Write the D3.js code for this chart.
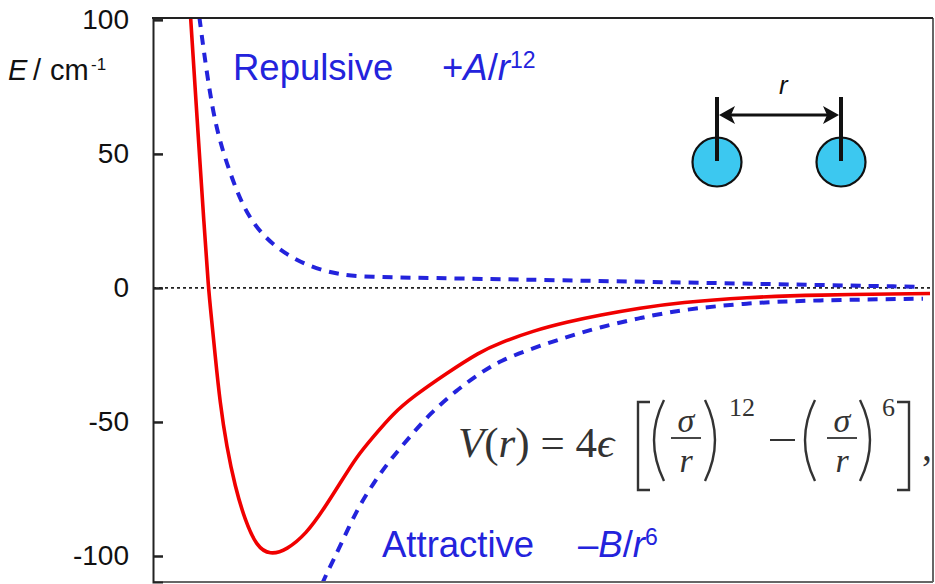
<!DOCTYPE html>
<html><head><meta charset="utf-8">
<script src="https://cdn.jsdelivr.net/npm/d3@7"></script>
<style>body{margin:0;background:#fff}svg{display:block}</style>
</head><body>
<svg id="c" width="935" height="584"></svg>
<script>
// ---- data ----
const yTicks = [100, 50, 0, -50, -100];
// total Lennard-Jones potential (red)
const rTotal = [3.451, 3.509, 3.539, 3.569, 3.591, 3.613, 3.647, 3.691, 3.747, 3.813, 3.891, 3.98, 4.091, 4.225, 4.335, 4.447, 4.558, 4.669, 4.802, 4.935, 5.158, 5.38, 5.513, 5.733, 5.96, 6.18, 6.447, 6.713, 7.16, 7.6, 8.38];
const eTotal = [100.7, 50, 25, 0, -11.9, -24.4, -43, -59.2, -74.1, -86.6, -96.5, -99.6, -97.8, -91.5, -82.8, -72.9, -62.9, -55.5, -46.8, -40.5, -31.8, -23.8, -20.5, -16, -12.7, -10.1, -7.5, -5.4, -3.5, -2.6, -2.1];
// repulsive term +A/r^12 (blue dashed)
const rRep = [3.509, 3.567, 3.627, 3.713, 3.8, 3.913, 4.067, 4.247, 4.447, 4.627, 5.067, 6.18, 7.247, 8.313];
const eRep = [101, 76.5, 57.8, 42.9, 30.2, 20.5, 13.1, 7.8, 4.9, 4.1, 3.7, 2.6, 1.5, 0.4];
// attractive term -B/r^6 (blue dashed)
const rAtt = [4.327, 4.358, 4.447, 4.558, 4.669, 4.78, 4.913, 5.047, 5.225, 5.38, 5.513, 5.733, 5.96, 6.18, 6.447, 6.713, 7.16, 7.6, 8.333];
const eAtt = [-110.5, -106.5, -96.5, -82.8, -72.9, -64.2, -55.5, -46.8, -38.1, -31.8, -27.2, -22.4, -18.3, -14.6, -11.2, -8.2, -5.6, -4.6, -4.0];

const xDomain = [3.2, 8.4];
const yDomain = [-109.7, 100.7];

const svg = d3.select("#c");
const L = 153, R = 933, T = 18, B = 582;
const x = d3.scaleLinear().domain(xDomain).range([L, R]);
const y = d3.scaleLinear().domain(yDomain).range([B, T]);

const blue = "#2323dc", red = "#f00000";
const sans = "Liberation Sans, Arial, sans-serif";

svg.append("defs").append("clipPath").attr("id","clip")
  .append("rect").attr("x",L).attr("y",T).attr("width",R-L).attr("height",B-T);

// zero line
svg.append("line").attr("x1",L).attr("x2",R).attr("y1",y(0)).attr("y2",y(0))
  .attr("stroke","#222").attr("stroke-width",1.8).attr("stroke-dasharray","3,3");

const line = d3.line().x(d=>x(d[0])).y(d=>y(d[1])).curve(d3.curveBasis);
const g = svg.append("g").attr("clip-path","url(#clip)");
g.append("path").attr("d", line(d3.zip(rRep,eRep))).attr("fill","none")
  .attr("stroke",blue).attr("stroke-width",4).attr("stroke-dasharray","10,8");
g.append("path").attr("d", line(d3.zip(rAtt,eAtt))).attr("fill","none")
  .attr("stroke",blue).attr("stroke-width",4).attr("stroke-dasharray","10,8");
g.append("path").attr("d", line(d3.zip(rTotal,eTotal))).attr("fill","none")
  .attr("stroke",red).attr("stroke-width",3.6).attr("stroke-linejoin","round");

// frame
svg.append("line").attr("x1",R).attr("x2",R).attr("y1",T).attr("y2",B).attr("stroke","#666").attr("stroke-width",2);
svg.append("line").attr("x1",L).attr("x2",R).attr("y1",B).attr("y2",B).attr("stroke","#666").attr("stroke-width",2);

// y axis
const yAxis = d3.axisLeft(y).tickValues(yTicks).tickSize(-10).tickPadding(24).tickFormat(d => String(d));
const ax = svg.append("g").attr("transform",`translate(${L},0)`).call(yAxis);
ax.select(".domain").attr("stroke","#222").attr("stroke-width",2);
ax.selectAll(".tick line").attr("stroke","#222").attr("stroke-width",2.5);
ax.selectAll(".tick text").attr("font-family",sans).attr("font-size",28).attr("fill","#111");
svg.append("line").attr("x1",L-1).attr("x2",R).attr("y1",T).attr("y2",T).attr("stroke","#222").attr("stroke-width",2);

// y label
const lab = svg.append("g").attr("font-family",sans).attr("font-size",29).attr("fill","#111");
lab.append("text").attr("x",8).attr("y",80).attr("font-style","italic").text("E");
lab.append("text").attr("x",33).attr("y",80).text("/");
lab.append("text").attr("x",50).attr("y",80).text("cm");
lab.append("text").attr("x",91).attr("y",70).attr("font-size",17).text("-1");

// term labels
svg.append("text").attr("x",233).attr("y",80).attr("font-family",sans).attr("font-size",36.5).attr("fill",blue).text("Repulsive");
const rp = svg.append("text").attr("x",442).attr("y",80).attr("font-family",sans).attr("font-size",36.5).attr("fill",blue);
rp.append("tspan").text("+");
rp.append("tspan").attr("font-style","italic").text("A");
rp.append("tspan").text("/");
rp.append("tspan").attr("font-style","italic").text("r");
rp.append("tspan").attr("font-size",23).attr("dy",-12).text("12");

svg.append("text").attr("x",382).attr("y",557).attr("font-family",sans).attr("font-size",36.5).attr("fill",blue).text("Attractive");
const at = svg.append("text").attr("x",578).attr("y",557).attr("font-family",sans).attr("font-size",36.5).attr("fill",blue);
at.append("tspan").text("\u2013");
at.append("tspan").attr("font-style","italic").text("B");
at.append("tspan").text("/");
at.append("tspan").attr("font-style","italic").text("r");
at.append("tspan").attr("font-size",23).attr("dy",-12).text("6");

// formula
const serif = "Liberation Serif, DejaVu Serif, serif";
const fc = "#333";
const f = svg.append("g").attr("fill",fc).attr("font-family",serif);
const t1 = f.append("text").attr("x",458).attr("y",457).attr("font-size",43);
t1.append("tspan").attr("font-style","italic").text("V");
t1.append("tspan").text("(");
t1.append("tspan").attr("font-style","italic").text("r");
t1.append("tspan").text(") = 4");
t1.append("tspan").attr("font-style","italic").text("\u03F5");
// brackets
const br = (x0, dir) => f.append("path").attr("d",`M${x0+dir*12},402 H${x0} V490 H${x0+dir*12}`).attr("fill","none").attr("stroke",fc).attr("stroke-width",2.4);
br(638, 1); br(909, -1);
// parens
const paren = (cx, open) => f.append("path")
  .attr("d", open ? `M${cx+8},400 Q${cx-12},440 ${cx+8},481` : `M${cx-8},400 Q${cx+12},440 ${cx-8},481`)
  .attr("fill","none").attr("stroke",fc).attr("stroke-width",2.4);
paren(656, true); paren(713, false); paren(807, true); paren(868, false);
const frac = (cx) => {
  f.append("text").attr("x",cx).attr("y",432).attr("text-anchor","middle").attr("font-size",34).attr("font-style","italic").text("\u03C3");
  f.append("line").attr("x1",cx-15).attr("x2",cx+15).attr("y1",438).attr("y2",438).attr("stroke",fc).attr("stroke-width",1.8);
  f.append("text").attr("x",cx).attr("y",472).attr("text-anchor","middle").attr("font-size",34).attr("font-style","italic").text("r");
};
frac(686); frac(842);
f.append("text").attr("x",729).attr("y",416).attr("font-size",26).text("12");
f.append("text").attr("x",882).attr("y",416).attr("font-size",26).text("6");
f.append("line").attr("x1",770).attr("x2",795).attr("y1",440).attr("y2",440).attr("stroke",fc).attr("stroke-width",2);
f.append("text").attr("x",922).attr("y",460).attr("font-size",40).text(",");

// molecule diagram
const cy = 162, c1 = 717, c2 = 841;
[c1,c2].forEach(cx=>{
  svg.append("circle").attr("cx",cx).attr("cy",cy).attr("r",24.5).attr("fill","#3cc8f0").attr("stroke","#111").attr("stroke-width",2.2);
  svg.append("line").attr("x1",cx).attr("x2",cx).attr("y1",97).attr("y2",161).attr("stroke","#111").attr("stroke-width",4);
});
svg.append("line").attr("x1",c1+12).attr("x2",c2-12).attr("y1",115).attr("y2",115).attr("stroke","#111").attr("stroke-width",3);
svg.append("path").attr("d",`M${c1+2},115 L${c1+18},106 L${c1+14},115 L${c1+18},124 Z`).attr("fill","#111");
svg.append("path").attr("d",`M${c2-2},115 L${c2-18},106 L${c2-14},115 L${c2-18},124 Z`).attr("fill","#111");
svg.append("text").attr("x",779).attr("y",94).attr("font-family",sans).attr("font-style","italic").attr("font-size",26).attr("fill","#111").text("r");
</script>
</body></html>
